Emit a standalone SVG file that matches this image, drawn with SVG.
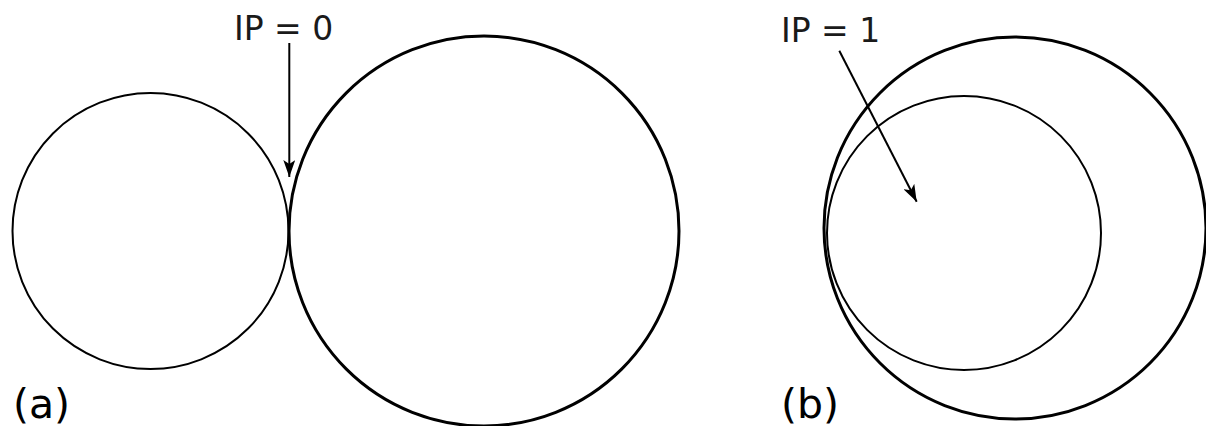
<svg xmlns="http://www.w3.org/2000/svg" width="1206" height="426" viewBox="0 0 1206 426">
<style>
.c{fill:none;stroke:#000;stroke-width:2}
.ct{fill:none;stroke:#000;stroke-width:3}
.e{fill:none;stroke:#000;stroke-width:2}
.t{font-family:"DejaVu Sans",Verdana,sans-serif;font-size:33px;fill:#1a1a1a}
.l{font-family:"DejaVu Sans",Verdana,sans-serif;font-size:41px;fill:#000}
</style>
<defs>
<marker id="ah" markerUnits="userSpaceOnUse" markerWidth="18" markerHeight="12" refX="17" refY="6" orient="auto">
<path d="M0,0 L17,6 L0,12 L4,6 Z" fill="#000"/>
</marker>
</defs>
<rect width="1206" height="426" fill="#fff"/>
<g id="circle-a-small"><circle class="c" cx="150.5" cy="231" r="138"/></g>
<g id="circle-a-large"><circle class="ct" cx="484" cy="231" r="195"/></g>
<g id="circle-b-large"><circle class="ct" cx="1015" cy="228" r="191"/></g>
<g id="circle-b-small"><circle class="c" cx="964" cy="233" r="137"/></g>
<g id="label-ip0"><text class="t" x="234" y="40">IP = 0</text></g>
<g id="label-ip1"><text class="t" x="781" y="42">IP = 1</text></g>
<g id="label-a"><text class="l" x="13" y="418">(a)</text></g>
<g id="label-b"><text class="l" x="781" y="418">(b)</text></g>
<g id="connectors">
<line class="e" x1="289.3" y1="43" x2="289.3" y2="177" marker-end="url(#ah)"/>
<line class="e" x1="839.3" y1="50.7" x2="916.7" y2="201.7" marker-end="url(#ah)"/>
</g>
</svg>
